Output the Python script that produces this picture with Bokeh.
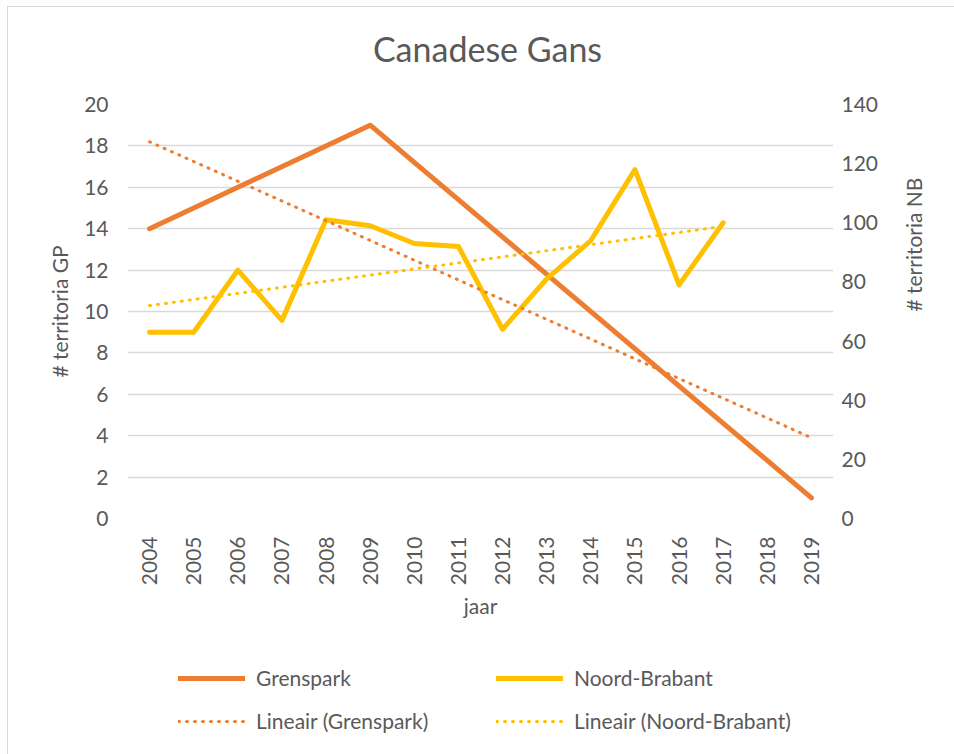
import math
from bokeh.plotting import figure
from bokeh.layouts import column
from bokeh.models import (Range1d, LinearAxis, FixedTicker, Legend, LegendItem)
from bokeh.core.properties import value
from bokeh.embed import file_html
from bokeh.resources import INLINE

title_text = "Canadese Gans"
years = list(range(2004, 2020))
# Grenspark (left axis) - only years with a value
gp_years = [2004, 2009, 2019]
gp_values = [14, 19, 1]
# Noord-Brabant (right axis)
nb_years = list(range(2004, 2018))
nb_values = [63, 63, 84, 67, 101, 99, 93, 92, 64, 81, 94, 118, 79, 100]
# linear trend lines (end points)
gp_trend_years = [2004, 2019]
gp_trend_values = [18.2, 3.9]
nb_trend_years = [2004, 2017]
nb_trend_values = [72, 98.8]

left_ticks = list(range(0, 21, 2))
right_ticks = list(range(0, 141, 20))
series_names = ["Grenspark", "Noord-Brabant"]
trend_names = ["Lineair (Grenspark)", "Lineair (Noord-Brabant)"]

ORANGE = "#ED7D31"
GOLD = "#FFC000"
TXT = "#595959"
GRID = "#d9d9d9"
FONT = "Lato"

W = 946
H_TITLE = 82
H_MAIN = 549
H_LEG = 116
BL, BR = 119, 121
TOP = 15

# title strip
t = figure(width=W, height=H_TITLE, output_backend="svg", toolbar_location=None,
           x_axis_type=None, y_axis_type=None, outline_line_color=None,
           min_border_left=BL, min_border_right=BR, min_border_top=0,
           min_border_bottom=0, x_range=Range1d(0, 1), y_range=Range1d(0, 1))
t.xgrid.grid_line_color = None
t.ygrid.grid_line_color = None
t.text(x=[0.5], y=[0.5], text=[title_text], text_align="center",
       text_baseline="middle", text_font=value(FONT), text_font_size="34px",
       text_color=TXT, x_offset=7, y_offset=0)

p = figure(width=W, height=H_MAIN, output_backend="svg", toolbar_location=None,
           x_range=Range1d(2003.5, 2019.5), y_range=Range1d(0, 20),
           min_border_left=BL, min_border_right=BR, min_border_top=TOP,
           min_border_bottom=H_MAIN - TOP - 414, outline_line_color=None)
p.extra_y_ranges = {"nb": Range1d(0, 140)}

p.xgrid.grid_line_color = None
p.ygrid.grid_line_color = GRID
p.ygrid.grid_line_width = 1.3
p.ygrid.ticker = FixedTicker(ticks=left_ticks)

def style_axis(ax):
    ax.axis_line_color = None
    ax.major_tick_line_color = None
    ax.minor_tick_line_color = None
    ax.major_label_text_font = FONT
    ax.major_label_text_font_size = "21px"
    ax.major_label_text_color = TXT
    ax.axis_label_text_font = FONT
    ax.axis_label_text_font_size = "21px"
    ax.axis_label_text_font_style = "normal"
    ax.axis_label_text_color = TXT

xa = p.xaxis[0]
xa.ticker = FixedTicker(ticks=years)
xa.major_label_orientation = math.pi / 2
xa.axis_label = "jaar"
xa.major_label_standoff = 12
xa.axis_label_standoff = 5
style_axis(xa)

ya = p.yaxis[0]
ya.ticker = FixedTicker(ticks=left_ticks)
ya.axis_label = "# territoria GP"
ya.major_label_standoff = 13
ya.axis_label_standoff = 9
style_axis(ya)

ra = LinearAxis(y_range_name="nb", ticker=FixedTicker(ticks=right_ticks),
                axis_label="# territoria NB")
ra.major_label_standoff = 2
ra.axis_label_standoff = 32
ra.axis_label_orientation = math.pi / 2
style_axis(ra)
p.add_layout(ra, "right")

p.line(gp_years, gp_values, line_color=ORANGE, line_width=5,
       line_cap="round", line_join="round")
p.line(nb_years, nb_values, line_color=GOLD, line_width=5,
       line_cap="round", line_join="round", y_range_name="nb")
p.line(gp_trend_years, gp_trend_values, line_color=ORANGE, line_width=3,
       line_dash="1 7", line_cap="round")
p.line(nb_trend_years, nb_trend_values, line_color=GOLD, line_width=3,
       line_dash="1 7", line_cap="round", y_range_name="nb")

# legend strip (legend-only renderers with no visible data)
q = figure(width=W, height=H_LEG, output_backend="svg", toolbar_location=None,
           x_axis_type=None, y_axis_type=None, outline_line_color=None,
           min_border_left=BL, min_border_right=BR, min_border_top=0,
           min_border_bottom=0, x_range=Range1d(0, 1), y_range=Range1d(0, 1))
q.xgrid.grid_line_color = None
q.ygrid.grid_line_color = None
nan = [float("nan")]
l_gp = q.line(nan, nan, line_color=ORANGE, line_width=5, line_cap="round")
l_nb = q.line(nan, nan, line_color=GOLD, line_width=5, line_cap="round")
l_gpt = q.line(nan, nan, line_color=ORANGE, line_width=3, line_dash="1 7", line_cap="round")
l_nbt = q.line(nan, nan, line_color=GOLD, line_width=3, line_dash="1 7", line_cap="round")

legend = Legend(items=[
    LegendItem(label=series_names[0], renderers=[l_gp]),
    LegendItem(label=trend_names[0], renderers=[l_gpt]),
    LegendItem(label=series_names[1], renderers=[l_nb]),
    LegendItem(label=trend_names[1], renderers=[l_nbt]),
], ncols=2, location=(51, 12), glyph_width=67, glyph_height=20,
    label_standoff=11, label_width=240, label_height=43, spacing=0,
    padding=0, margin=0, border_line_color=None, background_fill_alpha=0,
    label_text_font=FONT, label_text_font_size="21px", label_text_color=TXT)
q.add_layout(legend, "center")

layout = column(t, p, q, spacing=0,
                styles={"margin-left": "7px", "margin-top": "6px",
                        "border-left": "1px solid #d9d9d9",
                        "border-top": "1px solid #d9d9d9"})

open("out.html", "w").write(file_html(layout, INLINE))
